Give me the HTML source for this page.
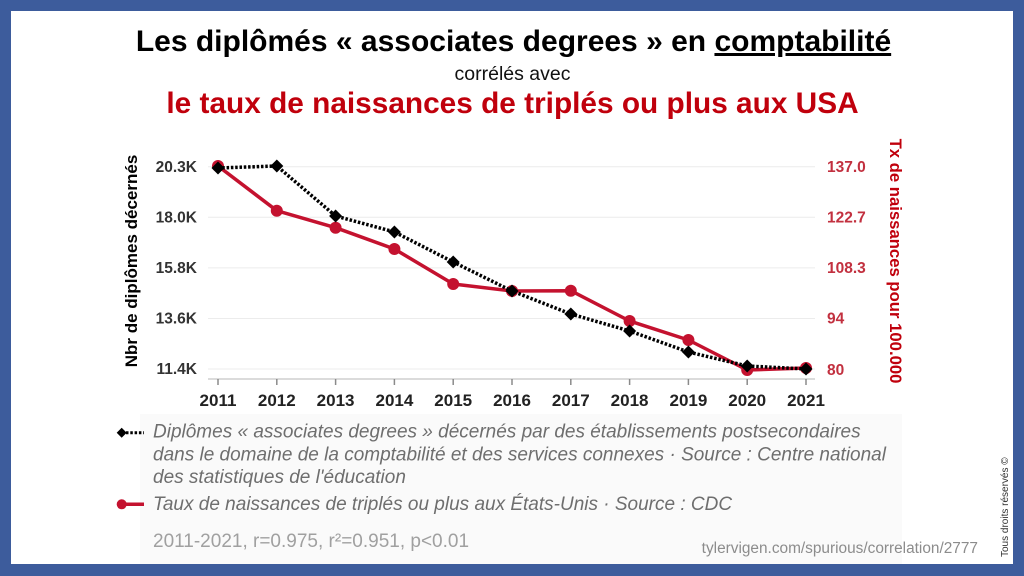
<!DOCTYPE html>
<html>
<head>
<meta charset="utf-8">
<style>
  html, body { margin:0; padding:0; background:#3d5c9c; }
  body { width:1024px; height:576px; overflow:hidden; }
  svg { display:block; font-family:"Liberation Sans", Arial, sans-serif; }
</style>
</head>
<body>
<svg width="1024" height="576" viewBox="0 0 1024 576" xmlns="http://www.w3.org/2000/svg">
  <!-- frame -->
  <rect x="0" y="0" width="1024" height="576" fill="#3d5c9c"/>
  <rect x="11" y="11" width="1002" height="553" fill="#ffffff"/>
  <!-- faint legend panel -->
  <rect x="140" y="414" width="762" height="150" fill="#fafafa"/>

  <!-- titles -->
  <text x="513.5" y="51" text-anchor="middle" font-size="30" font-weight="bold" fill="#000">Les diplômés « associates degrees » en <tspan style="text-decoration:underline">comptabilité</tspan></text>
  <text x="512.5" y="80" text-anchor="middle" font-size="19.5" fill="#111">corrélés avec</text>
  <text x="512.5" y="113" text-anchor="middle" font-size="29.8" font-weight="bold" fill="#c0000c">le taux de naissances de triplés ou plus aux USA</text>

  <!-- gridlines -->
  <g stroke="#ececec" stroke-width="1">
    <line x1="208" y1="166.7" x2="815" y2="166.7"/>
    <line x1="208" y1="217.3" x2="815" y2="217.3"/>
    <line x1="208" y1="267.9" x2="815" y2="267.9"/>
    <line x1="208" y1="318.5" x2="815" y2="318.5"/>
    <line x1="208" y1="369" x2="815" y2="369"/>
  </g>
  <!-- x axis -->
  <line x1="208" y1="379" x2="815" y2="379" stroke="#cfcfcf" stroke-width="1.5"/>
  <g stroke="#8a8a8a" stroke-width="1.5">
    <line x1="218" y1="379" x2="218" y2="385"/>
    <line x1="276.8" y1="379" x2="276.8" y2="385"/>
    <line x1="335.6" y1="379" x2="335.6" y2="385"/>
    <line x1="394.4" y1="379" x2="394.4" y2="385"/>
    <line x1="453.2" y1="379" x2="453.2" y2="385"/>
    <line x1="512" y1="379" x2="512" y2="385"/>
    <line x1="570.8" y1="379" x2="570.8" y2="385"/>
    <line x1="629.6" y1="379" x2="629.6" y2="385"/>
    <line x1="688.4" y1="379" x2="688.4" y2="385"/>
    <line x1="747.2" y1="379" x2="747.2" y2="385"/>
    <line x1="806" y1="379" x2="806" y2="385"/>
  </g>
  <g font-size="17" font-weight="bold" fill="#222" text-anchor="middle">
    <text x="218" y="406">2011</text>
    <text x="276.8" y="406">2012</text>
    <text x="335.6" y="406">2013</text>
    <text x="394.4" y="406">2014</text>
    <text x="453.2" y="406">2015</text>
    <text x="512" y="406">2016</text>
    <text x="570.8" y="406">2017</text>
    <text x="629.6" y="406">2018</text>
    <text x="688.4" y="406">2019</text>
    <text x="747.2" y="406">2020</text>
    <text x="806" y="406">2021</text>
  </g>

  <!-- left ticks -->
  <g font-size="15.5" font-weight="bold" fill="#333" text-anchor="end">
    <text x="197" y="172">20.3K</text>
    <text x="197" y="222.5">18.0K</text>
    <text x="197" y="273">15.8K</text>
    <text x="197" y="323.5">13.6K</text>
    <text x="197" y="374">11.4K</text>
  </g>
  <!-- right ticks -->
  <g font-size="15.5" font-weight="bold" fill="#c2303f" text-anchor="start">
    <text x="827" y="172">137.0</text>
    <text x="827" y="222.5">122.7</text>
    <text x="827" y="273">108.3</text>
    <text x="827" y="323.5">94</text>
    <text x="827" y="375">80</text>
  </g>

  <!-- axis titles -->
  <text transform="translate(137,261) rotate(-90)" text-anchor="middle" font-size="17" font-weight="bold" fill="#000">Nbr de diplômes décernés</text>
  <text transform="translate(890,261) rotate(90)" text-anchor="middle" font-size="16.7" font-weight="bold" fill="#c0000c">Tx de naissances pour 100.000</text>

  <!-- red series -->
  <polyline fill="none" stroke="#c4122f" stroke-width="3.5" stroke-linejoin="round"
    points="218,166 276.8,210.7 335.6,227.7 394.4,249 453.2,284 512,291 570.8,290.7 629.6,321 688.4,340 747.2,370 806,368"/>
  <g fill="#c4122f">
    <circle cx="218" cy="166" r="6"/>
    <circle cx="276.8" cy="210.7" r="6"/>
    <circle cx="335.6" cy="227.7" r="6"/>
    <circle cx="394.4" cy="249" r="6"/>
    <circle cx="453.2" cy="284" r="6"/>
    <circle cx="512" cy="291" r="6"/>
    <circle cx="570.8" cy="290.7" r="6"/>
    <circle cx="629.6" cy="321" r="6"/>
    <circle cx="688.4" cy="340" r="6"/>
    <circle cx="747.2" cy="370" r="6"/>
    <circle cx="806" cy="368" r="6"/>
  </g>

  <!-- black series -->
  <polyline fill="none" stroke="#000" stroke-width="3.5" stroke-dasharray="2.5 1.8"
    points="218,168 276.8,166 335.6,216 394.4,232 453.2,262 512,291 570.8,314 629.6,331 688.4,352 747.2,366 806,369"/>
  <g fill="#000">
    <path d="M218,161.5 L224.5,168 L218,174.5 L211.5,168 Z"/>
    <path d="M276.8,159.5 L283.3,166 L276.8,172.5 L270.3,166 Z"/>
    <path d="M335.6,209.5 L342.1,216 L335.6,222.5 L329.1,216 Z"/>
    <path d="M394.4,225.5 L400.9,232 L394.4,238.5 L387.9,232 Z"/>
    <path d="M453.2,255.5 L459.7,262 L453.2,268.5 L446.7,262 Z"/>
    <path d="M512,284.5 L518.5,291 L512,297.5 L505.5,291 Z"/>
    <path d="M570.8,307.5 L577.3,314 L570.8,320.5 L564.3,314 Z"/>
    <path d="M629.6,324.5 L636.1,331 L629.6,337.5 L623.1,331 Z"/>
    <path d="M688.4,345.5 L694.9,352 L688.4,358.5 L681.9,352 Z"/>
    <path d="M747.2,359.5 L753.7,366 L747.2,372.5 L740.7,366 Z"/>
    <path d="M806,362.5 L812.5,369 L806,375.5 L799.5,369 Z"/>
  </g>

  <!-- legend -->
  <path d="M121.7,427.7 L126.7,432.7 L121.7,437.7 L116.7,432.7 Z" fill="#000"/>
  <line x1="126" y1="432.7" x2="144" y2="432.7" stroke="#000" stroke-width="3" stroke-dasharray="2.5 1.8"/>
  <line x1="121.7" y1="504.3" x2="144" y2="504.3" stroke="#c4122f" stroke-width="3.5"/>
  <circle cx="121.7" cy="504.3" r="5" fill="#c4122f"/>

  <g font-size="19" font-style="italic" fill="#6e6e6e">
    <text x="153" y="437.5">Diplômes « associates degrees » décernés par des établissements postsecondaires</text>
    <text x="153" y="460.5">dans le domaine de la comptabilité et des services connexes · Source : Centre national</text>
    <text x="153" y="483">des statistiques de l'éducation</text>
    <text x="153" y="510">Taux de naissances de triplés ou plus aux États-Unis · Source : CDC</text>
  </g>
  <text x="153" y="547" font-size="19" fill="#a0a0a0">2011-2021, r=0.975, r²=0.951, p&lt;0.01</text>
  <text x="978" y="553" text-anchor="end" font-size="15.4" fill="#8c8c8c">tylervigen.com/spurious/correlation/2777</text>
  <text transform="translate(1008,557) rotate(-90)" font-size="10" fill="#333">Tous droits réservés ©</text>
</svg>
</body>
</html>
